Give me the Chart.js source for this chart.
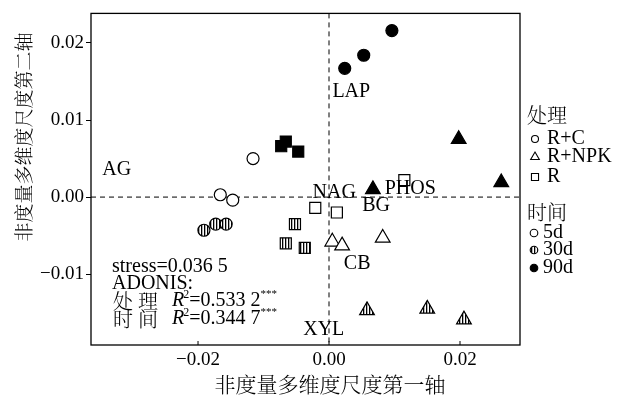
<!DOCTYPE html>
<html>
<head>
<meta charset="utf-8">
<script src="https://cdn.jsdelivr.net/npm/chart.js@4.4.1/dist/chart.umd.min.js"></script>
<style>
  html, body { margin: 0; padding: 0; background: #fff; }
</style>
</head>
<body>
<canvas id="nmds" width="624" height="400"></canvas>
<script>
// ─── Data ─────────────────────────────────────────────────────────────────────
const treatments = ['R+C', 'R+NPK', 'R'];
const times      = ['5d', '30d', '90d'];

// [NMDS1, NMDS2] per sample
const rc5d    = [[-0.0116, 0.0050], [-0.0166, 0.0003], [-0.0147, -0.0004]];
const rc30d   = [[-0.0191, -0.0043], [-0.0173, -0.0035], [-0.0157, -0.0035]];
const rc90d   = [[0.0024, 0.0167], [0.0053, 0.0184], [0.0096, 0.0216]];
const npk5d   = [[0.0005, -0.0058], [0.0020, -0.0063], [0.0082, -0.0053]];
const npk30d  = [[0.0058, -0.0147], [0.0150, -0.0145], [0.0206, -0.0159]];
const npk90d  = [[0.0067, 0.0010], [0.0198, 0.0075], [0.0263, 0.0019]];
const r5d     = [[-0.0021, -0.0014], [0.0012, -0.0020], [0.0115, 0.0022]];
const r30d    = [[-0.0052, -0.0035], [-0.0066, -0.0060], [-0.0037, -0.0066]];
const r90d    = [[-0.0073, 0.0066], [-0.0066, 0.0072], [-0.0047, 0.0059]];

// enzyme labels placed in data space
const enzymeNames = ['LAP', 'AG', 'NAG', 'PHOS', 'BG', 'CB', 'XYL'];
const enzymeX     = [0.0034, -0.0324, 0.0008, 0.0124, 0.0072, 0.0043, -0.0008];
const enzymeY     = [0.0137, 0.0035, 0.0006, 0.0011, -0.0011, -0.0087, -0.0172];

const xTicks = [-0.02, 0, 0.02];
const yTicks = [-0.01, 0, 0.01, 0.02];
const xRange = [-0.03634, 0.02916];
const yRange = [-0.01919, 0.02383];

const xTitle = '非度量多维度尺度第一轴';
const yTitle = '非度量多维度尺度第二轴';
const statLines = ['stress=0.036 5', 'ADONIS:'];
const adonis = [['处理', '0.533 2'], ['时间', '0.344 7']];

// ─── Styling helpers ──────────────────────────────────────────────────────────
const SERIF = "'Liberation Serif', 'Noto Serif CJK SC', 'Noto Sans CJK SC', serif";
const font = (size, style = '') => `${style} ${size}px ${SERIF}`.trim();
const cjk = size => `300 ${size}px 'Noto Serif CJK SC', 'Noto Sans CJK SC', sans-serif`;

function hatchPattern() {
  const c = document.createElement('canvas');
  c.width = 3; c.height = 3;
  const g = c.getContext('2d');
  g.fillStyle = '#fff';
  g.fillRect(0, 0, 3, 3);
  g.fillStyle = '#000';
  g.fillRect(0, 0, 1.3, 3);
  return g.createPattern(c, 'repeat');
}
const HATCH = hatchPattern();

const shapeOf  = { 'R+C': 'circle', 'R+NPK': 'triangle', 'R': 'rect' };
const radiusOf = { circle: 6, triangle: 8.5, rect: 7.8 };
const fillOf   = { '5d': '#fff', '30d': HATCH, '90d': '#000' };

const toPts = arr => arr.map(([x, y]) => ({ x, y }));
const groups = [
  ['R+C', '5d', rc5d], ['R+C', '30d', rc30d], ['R+C', '90d', rc90d],
  ['R+NPK', '5d', npk5d], ['R+NPK', '30d', npk30d], ['R+NPK', '90d', npk90d],
  ['R', '5d', r5d], ['R', '30d', r30d], ['R', '90d', r90d],
];

const datasets = groups.map(([t, d, pts]) => {
  const shape = shapeOf[t];
  return {
    label: `${t} ${d}`,
    data: toPts(pts),
    pointStyle: shape,
    pointRadius: radiusOf[shape],
    pointHoverRadius: radiusOf[shape],
    pointBackgroundColor: fillOf[d],
    pointBorderColor: '#000',
    pointBorderWidth: 1.2,
    showLine: false,
  };
});

// ─── Plugin: frame, zero lines, labels, legend, titles ────────────────────────
const decor = {
  id: 'decor',
  beforeDatasetsDraw(chart) {
    const { ctx, chartArea: a, scales: { x, y } } = chart;
    ctx.save();
    ctx.strokeStyle = '#000';
    ctx.lineWidth = 1;
    ctx.setLineDash([5, 4]);
    const x0 = x.getPixelForValue(0), y0 = y.getPixelForValue(0);
    ctx.beginPath();
    ctx.moveTo(x0, a.top); ctx.lineTo(x0, a.bottom);
    ctx.moveTo(a.left, y0); ctx.lineTo(a.right, y0);
    ctx.stroke();
    ctx.restore();
  },
  afterDraw(chart) {
    const { ctx, chartArea: a, scales: { x, y } } = chart;
    ctx.save();
    ctx.strokeStyle = '#000';
    ctx.fillStyle = '#000';

    // frame
    ctx.lineWidth = 1.3;
    ctx.strokeRect(a.left, a.top, a.right - a.left, a.bottom - a.top);

    // x ticks point inward
    ctx.lineWidth = 1;
    ctx.beginPath();
    xTicks.forEach(v => {
      const px = x.getPixelForValue(v);
      ctx.moveTo(px, a.bottom); ctx.lineTo(px, a.bottom - 4);
    });
    ctx.stroke();

    // enzyme labels
    ctx.font = font(20);
    ctx.textAlign = 'center';
    ctx.textBaseline = 'middle';
    enzymeNames.forEach((n, i) => {
      ctx.fillText(n, x.getPixelForValue(enzymeX[i]), y.getPixelForValue(enzymeY[i]));
    });

    // stress / ADONIS block
    ctx.textAlign = 'left';
    const sx = a.left + 21;
    ctx.fillText(statLines[0], sx, 267);
    ctx.fillText(statLines[1], sx, 284);
    adonis.forEach(([name, val], i) => {
      const yy = 301 + i * 18;
      ctx.font = cjk(20);
      ctx.fillText(name[0], sx + 1, yy);
      ctx.fillText(name[1], sx + 26, yy);
      let cx = sx + 60;
      ctx.font = font(20, 'italic');
      ctx.fillText('R', cx, yy);
      cx += ctx.measureText('R').width;
      ctx.font = font(12);
      ctx.fillText('2', cx - 1, yy - 6);
      cx += ctx.measureText('2').width - 1;
      ctx.font = font(20);
      const s = '=' + val;
      ctx.fillText(s, cx, yy);
      cx += ctx.measureText(s).width;
      ctx.font = font(11);
      ctx.fillText('***', cx, yy - 7);
    });

    // legend
    const H = Chart.helpers;
    ctx.font = cjk(20);
    ctx.fillText('处理', 527, 115);
    ctx.font = font(20);
    const tRows = [139, 157, 177];
    treatments.forEach((t, i) => {
      const shape = shapeOf[t];
      ctx.fillStyle = '#fff';
      ctx.lineWidth = 1.1;
      H.drawPoint(ctx, { pointStyle: shape, radius: shape === 'circle' ? 3.5 : 5, rotation: 0, borderWidth: 1.1 }, 535, tRows[i]);
      ctx.fillStyle = '#000';
      ctx.fillText(t, 547, tRows[i]);
    });
    ctx.font = cjk(20);
    ctx.fillText('时间', 527, 212);
    ctx.font = font(20);
    const dRows = [233, 250, 268];
    times.forEach((d, i) => {
      ctx.fillStyle = fillOf[d];
      ctx.lineWidth = 1.1;
      H.drawPoint(ctx, { pointStyle: 'circle', radius: 3.8, rotation: 0, borderWidth: 1.1 }, 534, dRows[i]);
      ctx.fillStyle = '#000';
      ctx.fillText(d, 543, dRows[i]);
    });

    // axis titles
    ctx.textAlign = 'center';
    ctx.font = cjk(21);
    ctx.fillText(xTitle, 330, 384);
    ctx.translate(24, 137);
    ctx.rotate(-Math.PI / 2);
    ctx.font = cjk(19);
    ctx.fillText(yTitle, 0, 0);
    ctx.restore();
  },
};

const fmt = v => (v < 0 ? '\u2212' : '') + Math.abs(v).toFixed(2);

new Chart(document.getElementById('nmds'), {
  type: 'scatter',
  data: { datasets },
  options: {
    responsive: false,
    animation: false,
    devicePixelRatio: 1,
    layout: { padding: { top: 8, right: 104, left: 0, bottom: 0 } },
    plugins: { legend: { display: false }, tooltip: { enabled: false } },
    scales: {
      x: {
        min: xRange[0], max: xRange[1],
        afterBuildTicks: s => { s.ticks = xTicks.map(value => ({ value })); },
        afterFit: s => { s.height = 55; },
        border: { display: false },
        grid: { display: true, drawOnChartArea: false, drawTicks: false },
        ticks: { color: '#000', padding: 4, font: { family: SERIF, size: 19 }, callback: fmt, maxRotation: 0 },
      },
      y: {
        min: yRange[0], max: yRange[1],
        afterBuildTicks: s => { s.ticks = yTicks.map(value => ({ value })); },
        afterFit: s => { s.width = 91; },
        border: { display: false },
        grid: { drawOnChartArea: false, drawTicks: true, tickLength: 5, color: '#000', lineWidth: 1 },
        ticks: { color: '#000', padding: 2, font: { family: SERIF, size: 19 }, callback: fmt },
      },
    },
  },
  plugins: [decor],
});
</script>
</body>
</html>
